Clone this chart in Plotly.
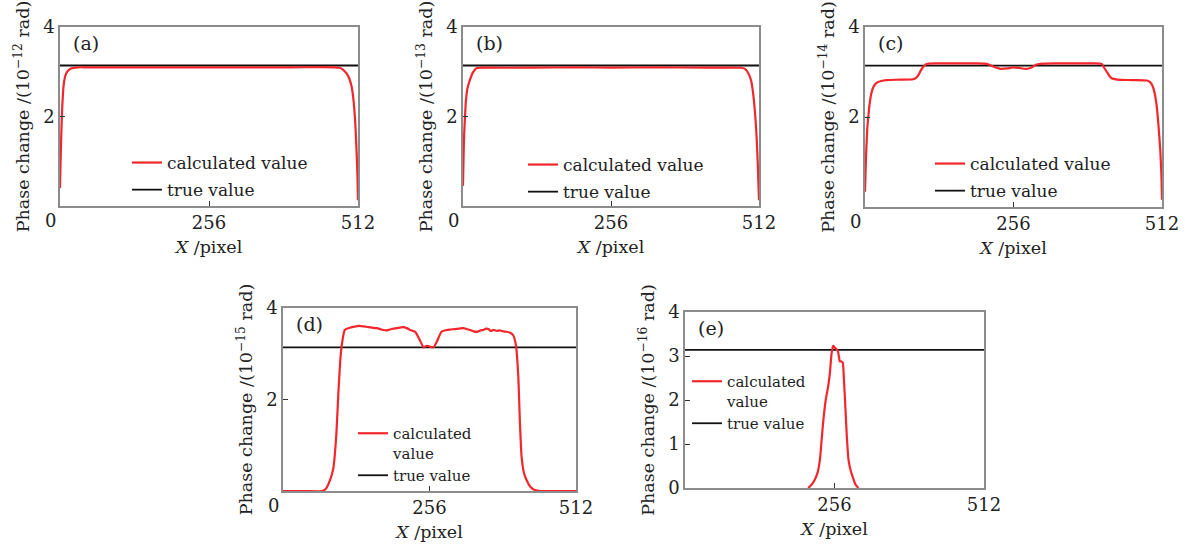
import plotly.graph_objects as go

# ---------------- data ----------------
TRUE_VALUE = 3.14
x_true = [0, 512]

x_a = [0, 1, 2, 3, 4, 6, 8, 11, 15, 20, 26, 32, 40, 100, 200, 256, 300, 400, 470, 480, 486, 492, 497, 501, 504, 507, 509, 511, 512]
y_a = [0.40, 1.0, 1.5, 1.92, 2.25, 2.67, 2.85, 2.97, 3.04, 3.08, 3.09, 3.10, 3.10, 3.10, 3.10, 3.10, 3.10, 3.10, 3.10, 3.09, 3.05, 2.97, 2.85, 2.67, 2.40, 1.92, 1.40, 0.70, 0.13]

x_b = [0, 1, 2, 3.5, 5, 8, 12, 17, 23, 30, 40, 120, 200, 256, 330, 420, 480, 487, 492, 498, 502, 505.6, 508, 510, 511, 512]
y_b = [0.45, 1.1, 1.6, 2.0, 2.35, 2.65, 2.82, 2.98, 3.08, 3.09, 3.09, 3.09, 3.10, 3.09, 3.10, 3.09, 3.09, 3.07, 3.0, 2.82, 2.5, 2.0, 1.5, 0.9, 0.5, 0.13]

x_c = [0, 1, 2, 3, 4, 6, 8, 11, 15, 20, 28, 37, 60, 83, 88, 92, 96, 101, 106, 130, 160, 190, 210, 216, 221, 228, 235, 245, 255, 265, 278, 287, 295, 302, 330, 360, 390, 408, 412, 417, 421, 425, 435, 460, 486, 491, 495, 499, 503, 506, 509, 511, 512]
y_c = [0.34, 0.8, 1.2, 1.49, 1.75, 2.05, 2.3, 2.53, 2.68, 2.76, 2.80, 2.82, 2.83, 2.84, 2.87, 2.93, 3.03, 3.12, 3.18, 3.19, 3.19, 3.19, 3.18, 3.15, 3.12, 3.09, 3.07, 3.08, 3.10, 3.09, 3.07, 3.10, 3.16, 3.18, 3.19, 3.19, 3.19, 3.18, 3.10, 3.0, 2.92, 2.86, 2.83, 2.82, 2.81, 2.78, 2.71, 2.55, 2.23, 1.8, 1.27, 0.7, 0.16]

x_d = [0, 40, 68, 75, 82, 88, 93, 97, 101, 104, 108, 117, 124, 132, 139, 146, 155, 164, 172, 181, 190, 199, 210, 216, 222, 231, 239, 246, 250, 254, 258, 263, 269, 277, 286, 293, 300, 308, 315, 321, 327, 333, 339, 345, 350, 355, 359, 363, 368, 374, 379, 385, 391, 397, 402, 407, 411, 414, 417, 421, 426, 433, 440, 450, 512]
y_d = [0.0, 0.0, 0.0, 0.05, 0.23, 0.5, 1.2, 2.2, 3.0, 3.3, 3.52, 3.57, 3.59, 3.61, 3.60, 3.59, 3.57, 3.56, 3.53, 3.51, 3.54, 3.56, 3.58, 3.56, 3.52, 3.48, 3.30, 3.14, 3.17, 3.17, 3.15, 3.14, 3.27, 3.48, 3.52, 3.53, 3.54, 3.55, 3.56, 3.54, 3.52, 3.49, 3.48, 3.51, 3.52, 3.55, 3.54, 3.50, 3.52, 3.50, 3.51, 3.49, 3.48, 3.46, 3.41, 3.19, 2.54, 1.5, 0.74, 0.4, 0.23, 0.08, 0.02, 0.0, 0.0]

x_e = [211, 217, 222, 227, 231, 234, 237, 241, 245, 248, 251, 253, 254, 256, 258, 260, 262, 264, 265, 267, 270, 272, 274, 277, 280, 284, 288, 292, 297]
y_e = [0.0, 0.08, 0.18, 0.35, 0.64, 1.1, 1.55, 2.0, 2.3, 2.6, 3.06, 3.2, 3.23, 3.2, 3.17, 3.15, 3.1, 2.95, 2.88, 2.88, 2.85, 2.5, 2.0, 1.2, 0.64, 0.38, 0.22, 0.08, 0.0]

panel_labels = ["(a)", "(b)", "(c)", "(d)", "(e)"]
exponents = ["−12", "−13", "−14", "−15", "−16"]
calc_names = ["calculated value"] * 3 + ["calculated<br>value"] * 2
x_ticks = [256, 512]
y_ticks_main = [2, 4]
y_ticks_e = [0, 1, 2, 3, 4]

series = [(x_a, y_a), (x_b, y_b), (x_c, y_c), (x_d, y_d), (x_e, y_e)]

# ---------------- layout geometry (pixels) ----------------
W, H = 1185, 549
boxes = [  # left, right, top, bottom in pixels
    (60, 358, 27, 206),
    (463, 759, 27, 206),
    (865, 1162, 27, 207),
    (283, 576, 308, 491),
    (685, 984, 312, 488),
]
legend_pos = [(127, 145), (523, 147), (930, 146), (353, 417), (687, 365)]

FONT = "DejaVu Serif"
TXT = "#222222"
FRAME = "#8c8c8c"
RED = "#f2262b"

fig = go.Figure()
layout = dict(
    width=W, height=H, autosize=False,
    margin=dict(l=0, r=0, t=0, b=0),
    paper_bgcolor="white", plot_bgcolor="white",
    font=dict(family=FONT, color=TXT),
    annotations=[],
)

for i, ((xs, ys), (l, r, t, b)) in enumerate(zip(series, boxes)):
    n = i + 1
    xa = "x" if n == 1 else f"x{n}"
    ya = "y" if n == 1 else f"y{n}"
    lg = "legend" if n == 1 else f"legend{n}"

    fig.add_trace(go.Scatter(
        x=x_true, y=[TRUE_VALUE, TRUE_VALUE], mode="lines",
        line=dict(color="#111111", width=1.8), name="true value",
        xaxis=xa, yaxis=ya, legend=lg, legendrank=2, legendgroup=f"t{n}",
    ))
    fig.add_trace(go.Scatter(
        x=xs, y=ys, mode="lines", line=dict(color=RED, width=2.2, shape="spline", smoothing=0.6),
        name=calc_names[i], xaxis=xa, yaxis=ya, legend=lg, legendrank=1, legendgroup=f"c{n}",
    ))

    xkey = "xaxis" if n == 1 else f"xaxis{n}"
    ykey = "yaxis" if n == 1 else f"yaxis{n}"
    layout[xkey] = dict(
        domain=[l / W, r / W], anchor=ya, range=[0, 512],
        tickvals=x_ticks, ticks="inside", ticklen=5, tickwidth=1, tickcolor="#333",
        showline=True, mirror=True, linecolor=FRAME, linewidth=1.5,
        showgrid=False, zeroline=False, automargin=False,
        tickfont=dict(family=FONT, size=18, color=TXT),
        title=dict(text="<i>X</i> /pixel", font=dict(family=FONT, size=17.5, color=TXT), standoff=8),
    )
    layout[ykey] = dict(
        domain=[1 - b / H, 1 - t / H], anchor=xa, range=[0, 4],
        tickvals=y_ticks_e if n == 5 else y_ticks_main,
        ticks="inside", ticklen=5, tickwidth=1, tickcolor="#333",
        showline=True, mirror=True, linecolor=FRAME, linewidth=1.5,
        showgrid=False, zeroline=False, automargin=False,
        tickfont=dict(family=FONT, size=18, color=TXT),
        title=dict(text=f"Phase change /(10<sup>{exponents[i]}</sup> rad)",
                   font=dict(family=FONT, size=17.5, color=TXT), standoff=9),
    )
    lx, ly = legend_pos[i]
    layout[lg] = dict(
        x=lx / W, y=1 - ly / H, xanchor="left", yanchor="top",
        bgcolor="rgba(0,0,0,0)", borderwidth=0,
        font=dict(family=FONT, size=17 if n <= 3 else 15, color=TXT),
        tracegroupgap=2 if n <= 3 else 0, valign="top",
        traceorder="grouped", itemwidth=30,
    )
    layout["annotations"].append(dict(
        text=panel_labels[i], xref="paper", yref="paper",
        x=(l + 11) / W, y=1 - (t + 16) / H, xanchor="left", yanchor="middle",
        showarrow=False, font=dict(family=FONT, size=19, color=TXT),
    ))
    if n <= 4:
        layout["annotations"].append(dict(
            text="0", xref=xa, yref="paper", x=0, y=1 - b / H,
            xanchor="center", yanchor="top", xshift=-10, yshift=-2,
            showarrow=False, font=dict(family=FONT, size=18, color=TXT),
        ))

fig.update_layout(**layout)
fig.write_html("out.html")
